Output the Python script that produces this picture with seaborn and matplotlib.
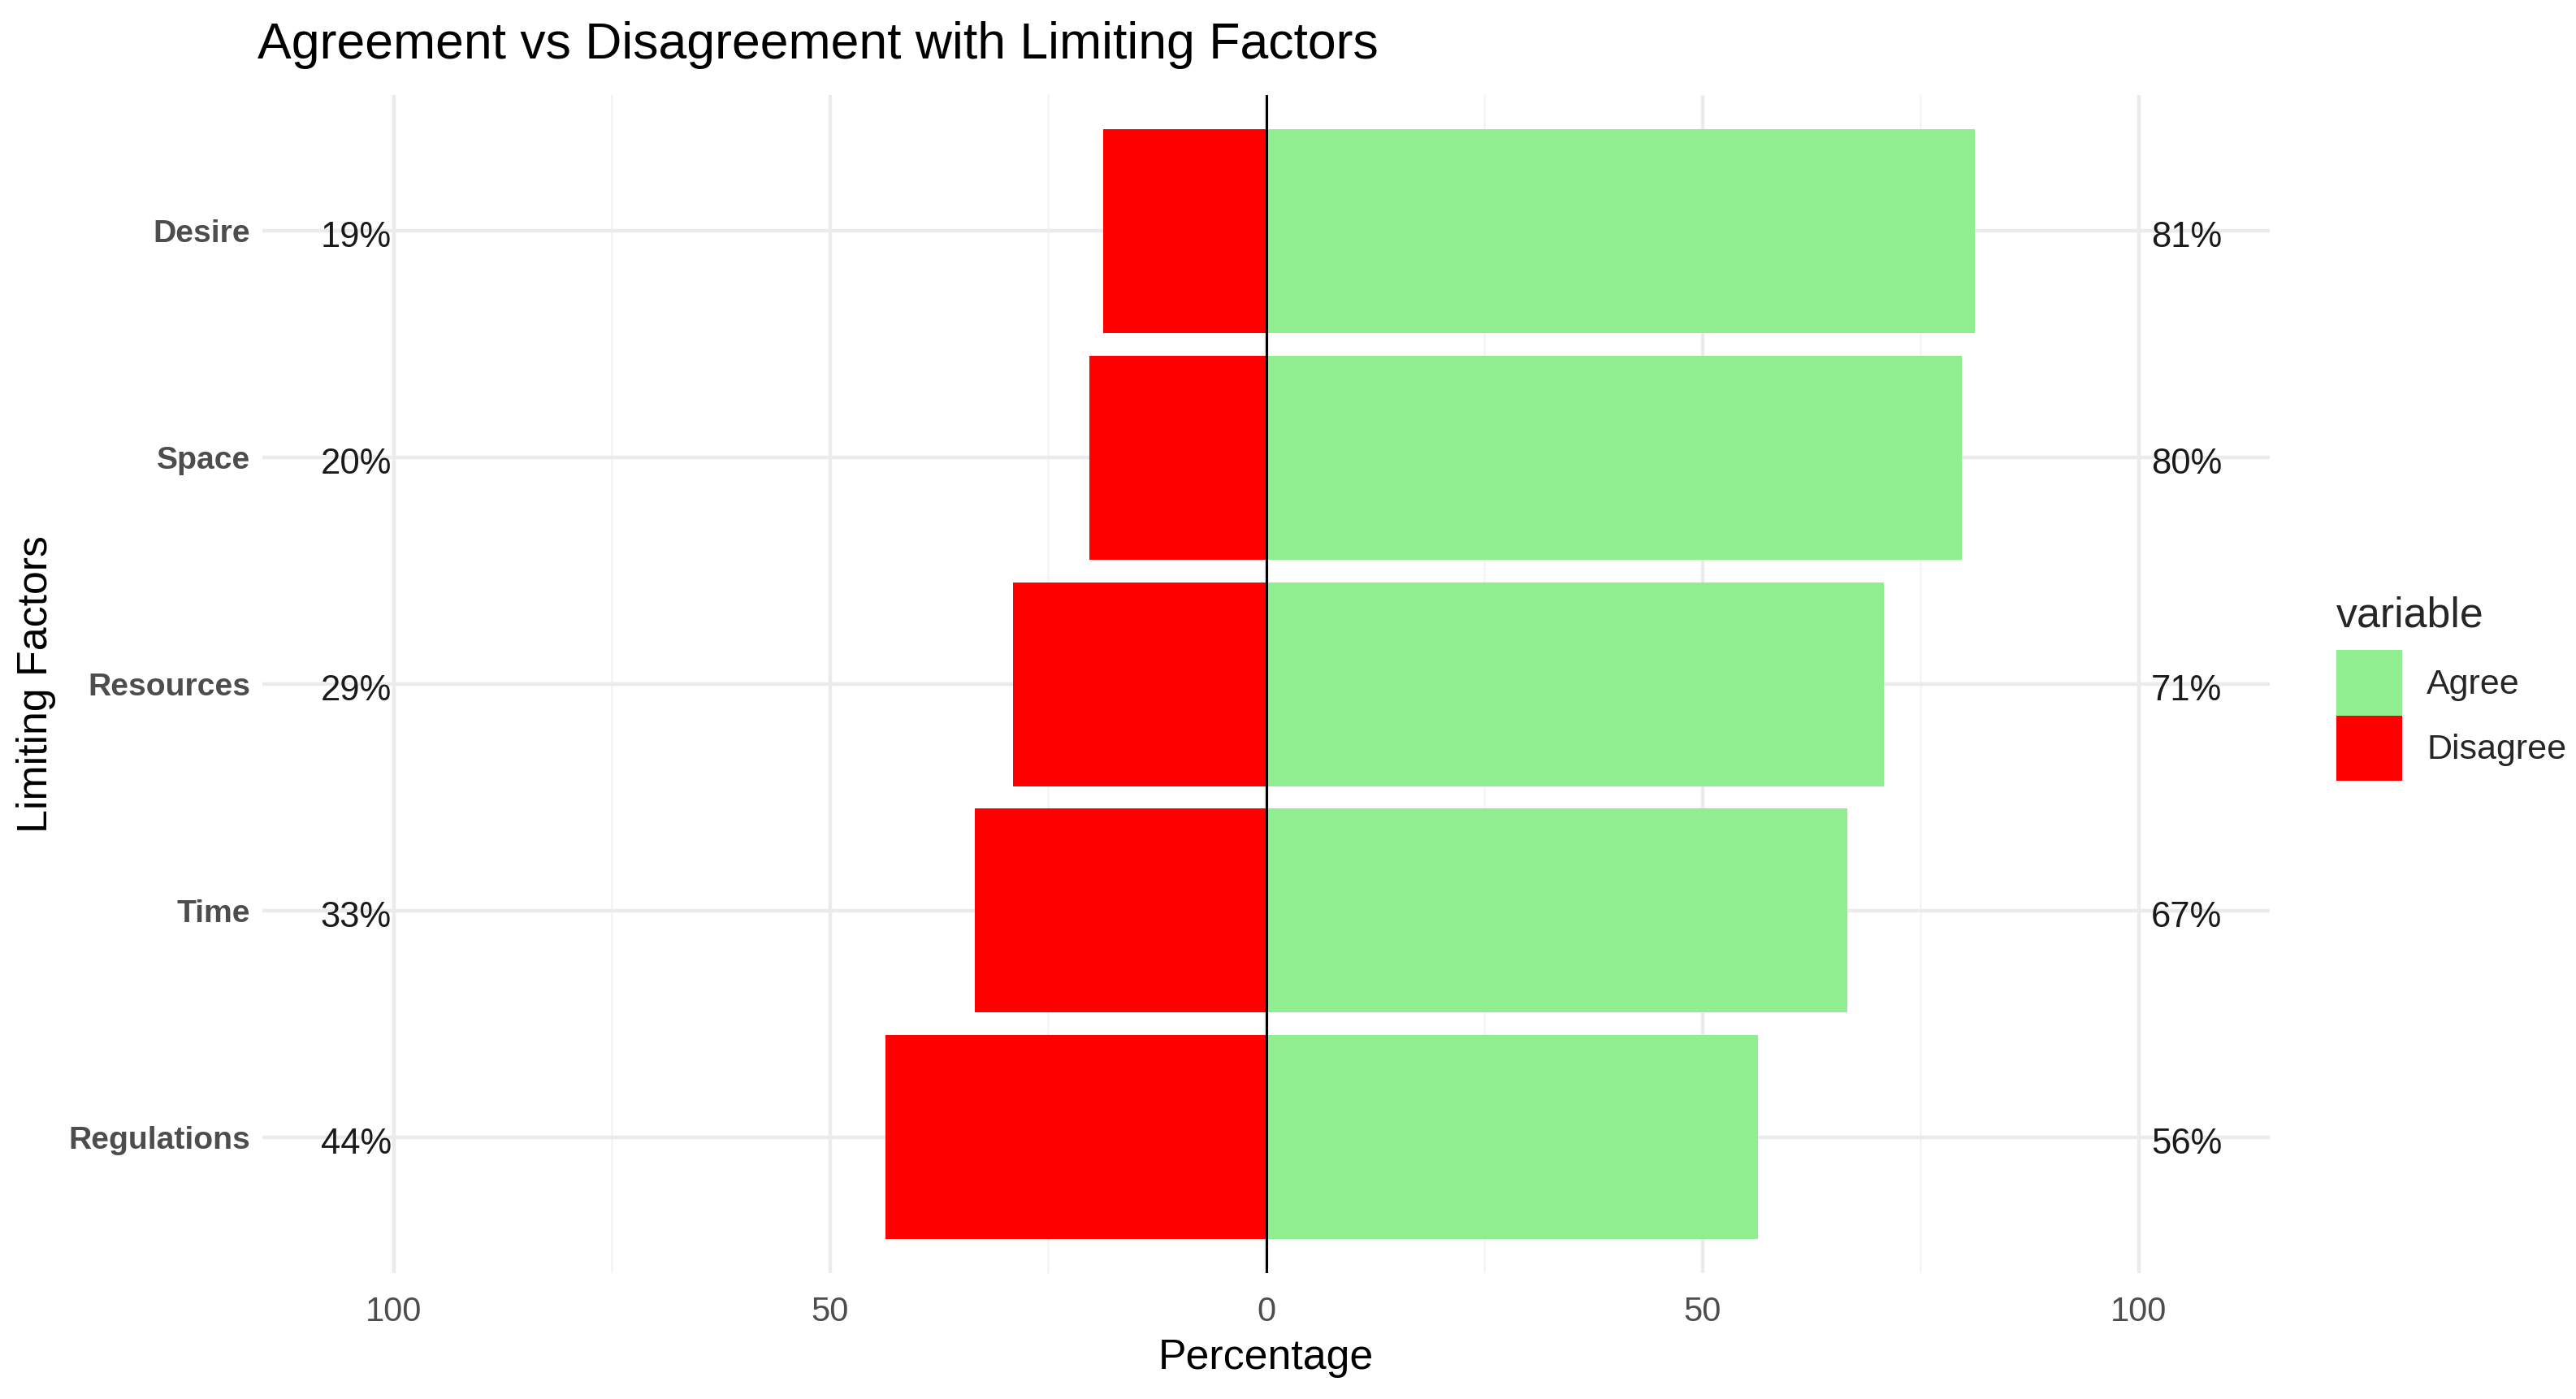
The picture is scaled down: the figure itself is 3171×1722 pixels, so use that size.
import pandas as pd
import matplotlib.pyplot as plt
import seaborn as sns

factors = ['Desire', 'Space', 'Resources', 'Time', 'Regulations']
agree = [81.2, 79.7, 70.8, 66.6, 56.4]
disagree = [18.7, 20.3, 29.0, 33.4, 43.6]
x_ticks = [-100, -50, 0, 50, 100]
x_tick_labels = ['100', '50', '0', '50', '100']
colores = {'Agree': '#90EE90', 'Disagree': '#FF0000'}

df = pd.DataFrame({
    'factor': factors * 2,
    'variable': ['Agree'] * len(factors) + ['Disagree'] * len(factors),
    'value': agree + [-v for v in disagree],
})

sns.set_theme(style='white')
plt.rcParams['font.family'] = ['Liberation Sans', 'DejaVu Sans']

fig = plt.figure(figsize=(15.855, 8.61), dpi=200)
ax = fig.add_axes([0.102, 0.090, 0.779, 0.842])

sns.barplot(data=df, x='value', y='factor', hue='variable', order=factors,
            hue_order=['Agree', 'Disagree'], palette=colores, orient='h',
            dodge=False, width=0.9, saturation=1, errorbar=None,
            linewidth=0, ax=ax, zorder=2)

# grid like theme_minimal
ax.set_xticks(x_ticks)
ax.set_xticklabels(x_tick_labels)
ax.set_xticks([-75, -25, 25, 75], minor=True)
ax.grid(axis='x', which='major', color='#EBEBEB', lw=1.6)
ax.grid(axis='x', which='minor', color='#F4F4F4', lw=0.9)
ax.grid(axis='y', which='major', color='#EBEBEB', lw=1.6)
ax.set_axisbelow(True)
ax.tick_params(axis='both', which='both', length=0)
ax.tick_params(axis='x', labelsize=15, labelcolor='#4D4D4D', pad=10)
ax.tick_params(axis='y', labelsize=14.1, labelcolor='#4D4D4D', pad=5.5)
for lbl in ax.get_yticklabels():
    lbl.set_fontweight('bold')
for s in ax.spines.values():
    s.set_visible(False)

ax.axvline(0, color='black', lw=1.1, zorder=3)
ax.set_xlim(-115, 115)
ax.set_ylim(len(factors) - 0.4, -0.6)

# percentage labels on both sides
for i, (a, d) in enumerate(zip(agree, disagree)):
    ax.text(-104.3, i + 0.03, f'{round(d)}%', ha='center', va='center', fontsize=15.7, color='#1A1A1A')
    ax.text(105.5, i + 0.03, f'{round(a)}%', ha='center', va='center', fontsize=15.7, color='#1A1A1A')

ax.set_xlabel('Percentage', fontsize=18.7, color='black')
ax.set_ylabel('Limiting Factors', fontsize=18.7, color='black')
ax.xaxis.set_label_coords(0.5, -0.072)
ax.xaxis.label.set_va('center')
ax.yaxis.set_label_coords(-0.113, 0.5)
ax.yaxis.label.set_va('center')

fig.text(0.1, 0.968, 'Agreement vs Disagreement with Limiting Factors',
         fontsize=22.5, ha='left', va='center', color='black')

handles, labels = ax.get_legend_handles_labels()
ax.get_legend().remove()
leg = fig.legend(handles, labels, title='variable', loc='center left',
                 bbox_to_anchor=(0.907, 0.508), frameon=False, fontsize=15.5,
                 title_fontsize=18.7, handlelength=1.88, handleheight=2.5,
                 labelspacing=0.0, handletextpad=0.7, borderpad=0,
                 borderaxespad=0, alignment='left')
leg._legend_box.sep = 6.5  # space between title and keys

fig.savefig('out.png', dpi=200)
